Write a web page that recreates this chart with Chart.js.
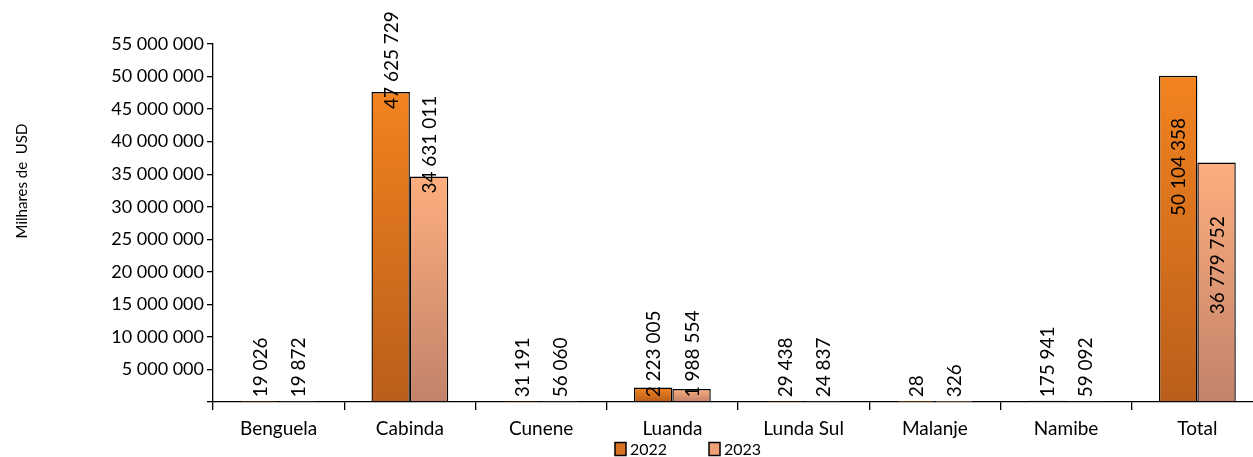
<!DOCTYPE html>
<html>
<head>
<meta charset="utf-8">
<script src="https://cdn.jsdelivr.net/npm/chart.js@4"></script>
<style>
  html, body { margin:0; padding:0; background:#fff; overflow:hidden; }
  #wrap { width:1263px; height:457px; }
</style>
</head>
<body>
<div id="wrap"><canvas id="c" width="1263" height="457"></canvas></div>
<script>
const categories = ['Benguela','Cabinda','Cunene','Luanda','Lunda Sul','Malanje','Namibe','Total'];
const values2022 = [19026, 47625729, 31191, 2223005, 29438, 28, 175941, 50104358];
const values2023 = [19872, 34631011, 56060, 1988554, 24837, 326, 59092, 36779752];
const seriesNames = ['2022','2023'];
const yTickMax = 55000000;
const yTickStep = 5000000;
const yTitle = 'Milhares de  USD';

const FONT = 'Lato, "Open Sans", sans-serif';
const gradStops = [['#F2831F','#BA5E1B'], ['#FEAE7E','#C2826A']];
const legendFill = ['#D8711F','#EFA076'];
const totalLabelFrac = [0.28, 0.43];

function fmt(v){ return String(v).replace(/\B(?=(\d{3})+(?!\d))/g, ' '); }

function makeBg(di){
  return function(ctx){
    const chart = ctx.chart;
    if (!chart.chartArea || ctx.type !== 'data') return gradStops[di][0];
    const ys = chart.scales.y;
    const top = ys.getPixelForValue(ctx.raw);
    const base = ys.getPixelForValue(0);
    if (base - top < 1) return gradStops[di][0];
    const g = chart.ctx.createLinearGradient(0, top, 0, base);
    g.addColorStop(0, gradStops[di][0]);
    g.addColorStop(1, gradStops[di][1]);
    return g;
  };
}

const labelPlugin = {
  id: 'valueLabels',
  afterDatasetsDraw(chart){
    const ctx = chart.ctx;
    ctx.save();
    ctx.fillStyle = '#000';
    ctx.font = '19px ' + FONT;
    chart.data.datasets.forEach((ds, di) => {
      const meta = chart.getDatasetMeta(di);
      meta.data.forEach((bar, i) => {
        const txt = fmt(ds.data[i]);
        ctx.save();
        if (chart.data.labels[i] === 'Total') {
          const cy = bar.y + (bar.base - bar.y) * totalLabelFrac[di];
          ctx.translate(bar.x + 1, cy);
          ctx.rotate(-Math.PI/2);
          ctx.textAlign = 'center';
        } else {
          const ay = Math.min(bar.y + 17, bar.base - 4);
          ctx.translate(bar.x + 1, ay);
          ctx.rotate(-Math.PI/2);
          ctx.textAlign = 'left';
        }
        ctx.textBaseline = 'middle';
        ctx.fillText(txt, 0, 0);
        ctx.restore();
      });
    });
    ctx.restore();
  }
};

const extrasPlugin = {
  id: 'extras',
  afterDraw(chart){
    const ctx = chart.ctx;
    ctx.save();
    // y axis title
    ctx.save();
    ctx.translate(22, 181);
    ctx.rotate(-Math.PI/2);
    ctx.font = '15px ' + FONT;
    ctx.fillStyle = '#000';
    ctx.textAlign = 'center';
    ctx.textBaseline = 'middle';
    ctx.fillText(yTitle, 0, 0);
    ctx.restore();
    // legend
    ctx.font = '16px ' + FONT;
    ctx.textBaseline = 'middle';
    const cy = 449;
    const xs = [615, 709];
    seriesNames.forEach((n, i) => {
      ctx.fillStyle = legendFill[i];
      ctx.fillRect(xs[i], cy - 6.5, 11, 13);
      ctx.strokeStyle = '#000';
      ctx.lineWidth = 1.5;
      ctx.strokeRect(xs[i], cy - 6.5, 11, 13);
      ctx.fillStyle = '#000';
      ctx.textAlign = 'left';
      ctx.fillText(n, xs[i] + 15, cy + 1);
    });
    ctx.restore();
  }
};

new Chart(document.getElementById('c'), {
  type: 'bar',
  data: {
    labels: categories,
    datasets: [
      { label: seriesNames[0], data: values2022, backgroundColor: makeBg(0), borderColor: '#000', borderWidth: 1.4, barPercentage: 1, categoryPercentage: 0.585 },
      { label: seriesNames[1], data: values2023, backgroundColor: makeBg(1), borderColor: '#000', borderWidth: 1.4, barPercentage: 1, categoryPercentage: 0.585 }
    ]
  },
  options: {
    responsive: false,
    animation: false,
    devicePixelRatio: 1,
    layout: { padding: { top: 44, right: 0, bottom: 0, left: 0 } },
    plugins: { legend: { display: false }, tooltip: { enabled: false } },
    scales: {
      x: {
        grid: { drawOnChartArea: false, color: '#000', tickLength: 8, offset: true, lineWidth: 1.3 },
        border: { color: '#000', width: 1.3 },
        ticks: { color: '#000', font: { family: FONT, size: 19 }, padding: 7 },
        afterFit(scale){ scale.height = 55; }
      },
      y: {
        min: 0, max: yTickMax,
        grid: { drawOnChartArea: false, color: '#000', tickLength: 6, lineWidth: 1.3 },
        border: { color: '#000', width: 1.3 },
        ticks: {
          stepSize: yTickStep, color: '#000', font: { family: FONT, size: 18 }, padding: 3,
          callback: (v) => v === 0 ? '' : fmt(v)
        },
        title: { display: false },
        afterFit(scale){ scale.width = 213; }
      }
    }
  },
  plugins: [labelPlugin, extrasPlugin]
});
</script>
</body>
</html>
